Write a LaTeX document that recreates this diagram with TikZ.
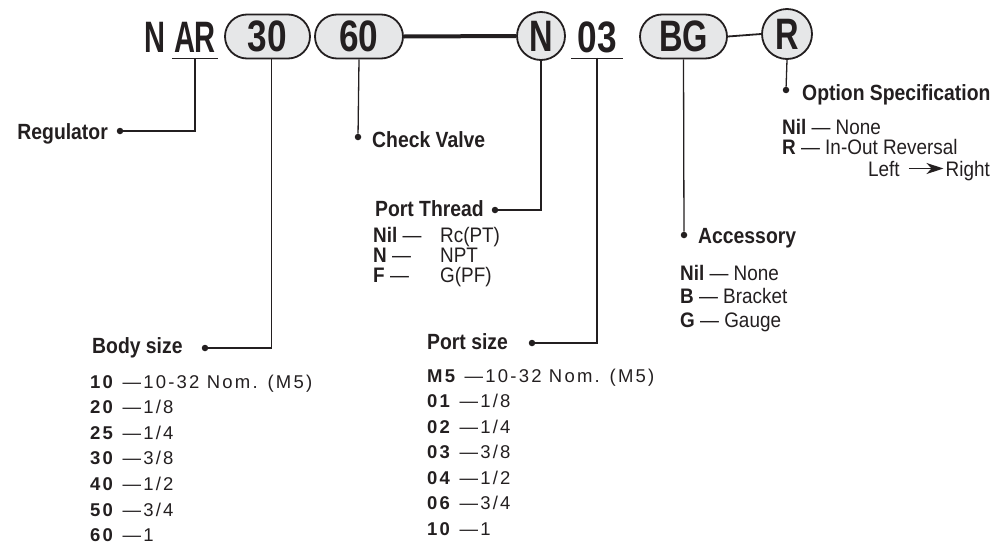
\documentclass[tikz,border=0pt]{standalone}
\usepackage{fontspec}
\setmainfont{Liberation Sans}
\newfontfamily\topf[FakeStretch=0.8]{Liberation Sans}
\newfontfamily\topL[FakeStretch=0.66]{Liberation Sans}
\newfontfamily\topM[FakeStretch=0.74]{Liberation Sans}
\newfontfamily\cond[FakeStretch=0.88]{Liberation Sans}
\newfontfamily\condo[FakeStretch=0.9]{Liberation Sans}
\newfontfamily\spaced[LetterSpace=12]{Liberation Sans}
\usetikzlibrary{shapes.misc,arrows.meta}
\definecolor{ink}{HTML}{231F20}
\definecolor{pillgray}{HTML}{E6E7E8}
\tikzset{
  x=1pt, y=-1pt,
  every node/.style={text=ink},
  big/.style={font=\topf\bfseries\fontsize{44}{44}\selectfont, inner sep=0pt},
  bigL/.style={font=\topL\bfseries\fontsize{44}{44}\selectfont},
  bigM/.style={font=\topM\bfseries\fontsize{44}{44}\selectfont},
  pill/.style={big, draw=ink, line width=1.8pt, fill=pillgray, rounded rectangle, minimum height=44pt},
  circ/.style={big, draw=ink, line width=1.8pt, fill=pillgray, circle, minimum size=48pt},
  under/.style={big, inner xsep=2pt, inner ysep=5pt},
  title/.style={font=\cond\bfseries\fontsize{22}{22}\selectfont, inner sep=0pt},
  opt/.style={font=\condo\fontsize{21}{21}\selectfont, inner sep=0pt},
  lst/.style={font=\spaced\fontsize{18.5}{18.5}\selectfont, inner sep=0pt},
  conn/.style={draw=ink, line width=1.3pt},
  dot/.style={fill=ink, circle, inner sep=0pt, minimum size=6.5pt},
}
\begin{document}
\begin{tikzpicture}
\useasboundingbox (0,0) rectangle (1002,544);
% top row
\node[big, bigL, anchor=base] (tN) at (155,52) {N};
\node[under, bigL, anchor=base] (tAR) at (195,52) {AR};
\draw[conn] ([yshift=-1pt]tAR.south west) -- ([yshift=-1pt]tAR.south east);
\node[pill, minimum width=85pt] (p30) at (267.5,36.5) {30};
\node[pill, minimum width=88pt] (p60) at (359,36.5) {60};
\node[circ, bigM] (cN) at (541,36) {N};
\draw[draw=ink, line width=4pt] (p60.east) -- (cN.west);
\node[under, anchor=base] (t03) at (597,52) {03};
\draw[conn] ([yshift=-1pt,xshift=-4pt]t03.south west) -- ([yshift=-1pt,xshift=4pt]t03.south east);
\node[pill, bigM, minimum width=87pt] (pBG) at (683.5,36.5) {BG};
\node[circ, bigM, minimum size=50pt] (cR) at (787,34) {R};
\draw[draw=ink, line width=1.8pt] (pBG.east) -- (cR.west);

% Regulator
\node[title, anchor=base east] (reg) at (108,139) {Regulator};
\node[dot] (dreg) at (120,131) {};
\draw[conn] ([yshift=-1pt]tAR.south) |- (dreg);
% Body size
\node[title, anchor=base west] (body) at (92,353) {Body size};
\node[dot] (dbody) at (205,348) {};
\draw[conn] ([xshift=4pt]p30.south) |- (dbody);
% Check valve
\node[title, anchor=base west] (chk) at (372,147) {Check Valve};
\node[dot] (dchk) at (358,137) {};
\draw[conn] (p60.south) -- (dchk);
% Port thread
\node[title, anchor=base east] (pt) at (484,216) {Port Thread};
\node[dot] (dpt) at (495,210) {};
\draw[conn] (cN.south) |- (dpt);
% Port size
\node[title, anchor=base west] (ps) at (427,349) {Port size};
\node[dot] (dps) at (532,343) {};
\draw[conn] (t03.south) |- (dps);
% Accessory
\node[title, anchor=base west] (acc) at (698,243) {Accessory};
\node[dot] (dacc) at (684,235) {};
\draw[conn] (pBG.south) -- (dacc);
% Option
\node[title, anchor=base west] (opt) at (802,100) {Option Specification};
\node[dot] (dopt) at (786,90) {};
\draw[conn] (cR.south) -- (dopt);

% option list
\node[opt, anchor=base west] (o1) at (782,134) {\textbf{Nil} — None};
\node[opt, anchor=base west] (o2) at (782,154) {\textbf{R} — In-Out Reversal};
\node[opt, anchor=base west] (oL) at (868,176) {Left};
\node[opt, anchor=base east] (oR) at (990,176) {Right};
\draw[draw=ink, line width=1.4pt, -{Stealth[length=17pt,width=11pt,inset=5pt]}] ([xshift=9pt,yshift=7.5pt]oL.base east) -- ([xshift=-2pt,yshift=7.5pt]oR.base west);

% accessory list
\node[opt, anchor=base west] (a1) at (680,280) {\textbf{Nil} — None};
\node[opt, anchor=base west] (a2) at (680,303) {\textbf{B} — Bracket};
\node[opt, anchor=base west] (a3) at (680,327) {\textbf{G} — Gauge};

% port thread list
\node[opt, anchor=base west] (t1) at (373,242) {\textbf{Nil} —};
\node[opt, anchor=base west] (t1v) at (440,242) {Rc(PT)};
\node[opt, anchor=base west] (t2) at (373,262) {\textbf{N} —};
\node[opt, anchor=base west] (t2v) at (440,262) {NPT};
\node[opt, anchor=base west] (t3) at (373,282) {\textbf{F} —};
\node[opt, anchor=base west] (t3v) at (440,282) {G(PF)};

% body size list
\node[lst, anchor=base west] (b1) at (90,388) {\textbf{10} —10-32 Nom. (M5)};
\node[lst, anchor=base west] (b2) at (90,413.6) {\textbf{20} —1/8};
\node[lst, anchor=base west] (b3) at (90,439.2) {\textbf{25} —1/4};
\node[lst, anchor=base west] (b4) at (90,464.8) {\textbf{30} —3/8};
\node[lst, anchor=base west] (b5) at (90,490.4) {\textbf{40} —1/2};
\node[lst, anchor=base west] (b6) at (90,516) {\textbf{50} —3/4};
\node[lst, anchor=base west] (b7) at (90,541.6) {\textbf{60} —1};

% port size list
\node[lst, anchor=base west] (s1) at (427,382) {\textbf{M5} —10-32 Nom. (M5)};
\node[lst, anchor=base west] (s2) at (427,407.5) {\textbf{01} —1/8};
\node[lst, anchor=base west] (s3) at (427,433) {\textbf{02} —1/4};
\node[lst, anchor=base west] (s4) at (427,458.5) {\textbf{03} —3/8};
\node[lst, anchor=base west] (s5) at (427,484) {\textbf{04} —1/2};
\node[lst, anchor=base west] (s6) at (427,509.5) {\textbf{06} —3/4};
\node[lst, anchor=base west] (s7) at (427,535) {\textbf{10} —1};
\end{tikzpicture}
\end{document}
